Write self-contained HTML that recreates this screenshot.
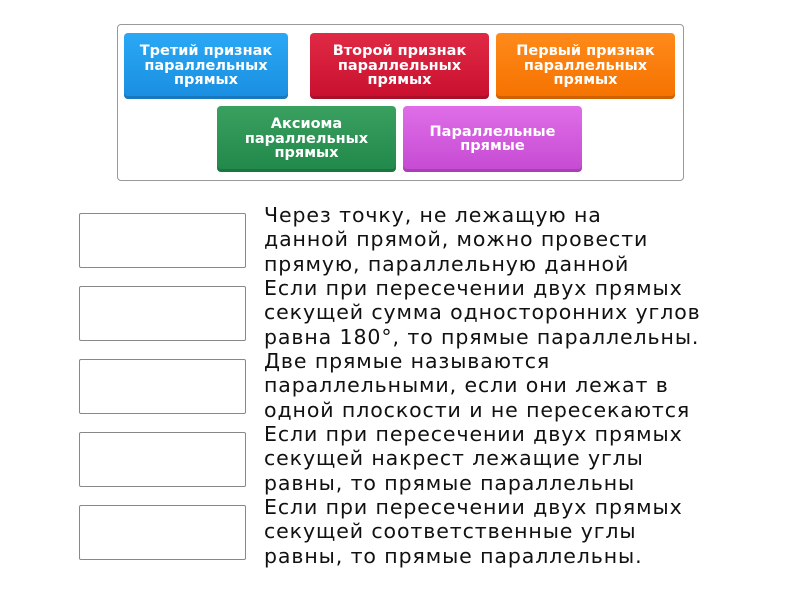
<!DOCTYPE html>
<html><head><meta charset="utf-8"><style>
body{margin:0;width:800px;height:600px;background:#fff;font-family:"Liberation Sans",sans-serif;position:relative;overflow:hidden}
.c{position:absolute;left:117px;top:24px;width:567px;height:157px;border:1px solid #999;border-radius:4px;box-sizing:border-box}
.t{position:absolute;height:66px;width:179px;border-radius:4px;color:#fff;font-family:"DejaVu Sans",sans-serif;font-weight:bold;font-size:14.5px;line-height:14.5px;display:flex;align-items:center;justify-content:center;text-align:center;box-sizing:border-box;padding:0 12px;box-shadow:inset 0 -3px 0 rgba(0,0,0,.15)}
.b{position:absolute;left:79px;width:167px;height:55px;border:1px solid #888;border-radius:2px;box-sizing:border-box}
.x{position:absolute;left:264px;font-family:"DejaVu Sans",sans-serif;font-size:20.5px;letter-spacing:0.9px;line-height:24.3px;color:#111;width:530px;white-space:nowrap}
</style></head><body>
<div class="c"></div>
<div class="t" style="left:124px;top:33px;width:164px;background:linear-gradient(#2aa8f5,#1a8ee0)">Третий признак параллельных прямых</div>
<div class="t" style="left:310px;top:33px;background:linear-gradient(#e02a45,#c8102e)">Второй признак параллельных прямых</div>
<div class="t" style="left:496px;top:33px;background:linear-gradient(#ff8a1a,#f57200)">Первый признак параллельных прямых</div>
<div class="t" style="left:217px;top:106px;background:linear-gradient(#3aa060,#20884a)">Аксиома параллельных прямых</div>
<div class="t" style="left:403px;top:106px;background:linear-gradient(#df6ee8,#c54ad2)">Параллельные прямые</div>
<div class="b" style="top:213px"></div>
<div class="b" style="top:286px"></div>
<div class="b" style="top:359px"></div>
<div class="b" style="top:432px"></div>
<div class="b" style="top:505px"></div>
<div class="x" style="top:203px">Через точку, не лежащую на<br>данной прямой, можно провести<br>прямую, параллельную данной</div>
<div class="x" style="top:276px">Если при пересечении двух прямых<br>секущей сумма односторонних углов<br>равна 180°, то прямые параллельны.</div>
<div class="x" style="top:349px">Две прямые называются<br>параллельными, если они лежат в<br>одной плоскости и не пересекаются</div>
<div class="x" style="top:422px">Если при пересечении двух прямых<br>секущей накрест лежащие углы<br>равны, то прямые параллельны</div>
<div class="x" style="top:495px">Если при пересечении двух прямых<br>секущей соответственные углы<br>равны, то прямые параллельны.</div>
</body></html>
